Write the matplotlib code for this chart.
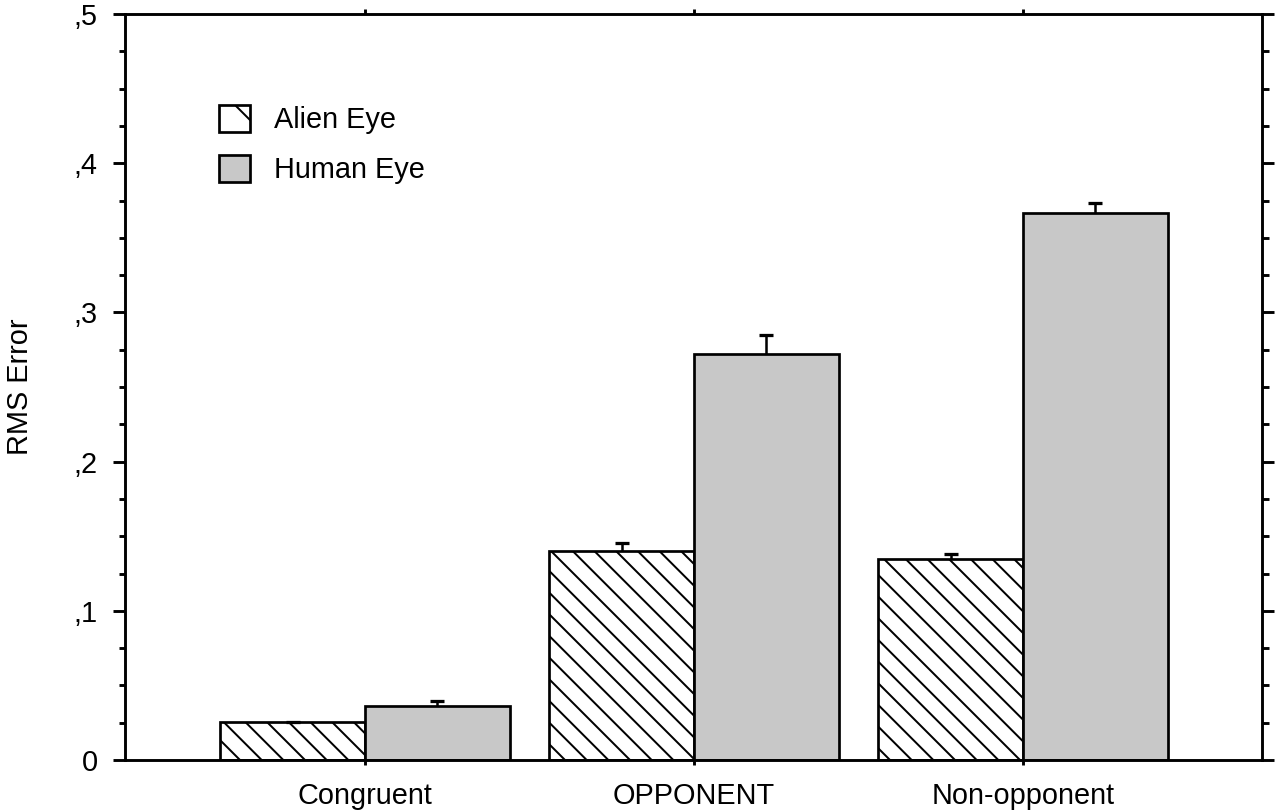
import matplotlib
matplotlib.use('Agg')
import matplotlib.pyplot as plt
import numpy as np
from matplotlib.ticker import MultipleLocator, FuncFormatter
from matplotlib.patches import Patch

# RMS error per model, two eye types
categories = ['Congruent', 'OPPONENT', 'Non-opponent']
alien = [0.0255, 0.1403, 0.1345]
alien_err = [0.0, 0.005, 0.0036]
human = [0.0362, 0.2721, 0.3664]
human_err = [0.0036, 0.0128, 0.0071]
series_names = ['Alien Eye', 'Human Eye']


def comma_fmt(v, pos):
    # ,1 ,2 ... style labels, plain 0 at the origin
    if abs(v) < 1e-9:
        return '0'
    return (',%g' % v).replace('0.', '')


def up_errbar(ax, xs, ys, err):
    # one-sided (upper) error bars, lower cap hidden
    _, caps, _ = ax.errorbar(xs, ys, yerr=[np.zeros(len(ys)), err], fmt='none',
                             ecolor='black', elinewidth=1.4, capsize=3.8,
                             capthick=1.8, zorder=3)
    caps[0].set_visible(False)


if __name__ == '__main__':
    plt.rcParams['font.family'] = ['Liberation Sans', 'DejaVu Sans']
    plt.rcParams['hatch.linewidth'] = 1.1
    plt.rcParams['hatch.color'] = 'black'

    dpi = 130
    fig = plt.figure(figsize=(1275 / dpi, 811 / dpi), dpi=dpi)
    ax = fig.add_axes([125 / 1275, 51 / 811, 1137 / 1275, 746 / 811])

    x = np.arange(len(categories))
    w = 0.44
    fs = 16

    ax.bar(x - w / 2, alien, w, color='white', edgecolor='black', linewidth=1.5,
           hatch='\\\\', zorder=2)
    ax.bar(x + w / 2, human, w, color='#c8c8c8', edgecolor='black', linewidth=1.5,
           zorder=2)
    up_errbar(ax, x - w / 2, alien, alien_err)
    up_errbar(ax, x + w / 2, human, human_err)

    ax.set_xlim(-0.7295, 2.7264)
    ax.set_ylim(0, 0.5)

    ax.set_xticks(x)
    ax.set_xticklabels(categories, fontsize=fs)
    ax.yaxis.set_major_locator(MultipleLocator(0.1))
    ax.yaxis.set_minor_locator(MultipleLocator(0.025))
    ax.yaxis.set_major_formatter(FuncFormatter(comma_fmt))
    ax.tick_params(axis='y', which='major', direction='out', length=6.6, width=1.6,
                   right=True, labelsize=fs, pad=8.5)
    ax.tick_params(axis='y', which='minor', direction='out', length=3.6, width=1.6,
                   right=True)
    ax.tick_params(axis='x', which='major', direction='out', length=2.8, width=1.6,
                   top=True, labelsize=fs, pad=9.5)
    ax.tick_params(axis='x', which='minor', bottom=False, top=False)

    for s in ax.spines.values():
        s.set_linewidth(1.6)

    ax.set_ylabel('RMS Error', fontsize=fs, labelpad=22)

    handles = [Patch(facecolor='white', edgecolor='black', hatch='\\', linewidth=1.5),
               Patch(facecolor='#c8c8c8', edgecolor='black', linewidth=1.5)]
    ax.legend(handles, series_names, loc='upper left', bbox_to_anchor=(0.083, 0.878),
              frameon=False, fontsize=fs, handlelength=1.05, handleheight=1.05,
              handletextpad=0.85, labelspacing=0.72, borderpad=0, borderaxespad=0)

    fig.savefig('out.png', dpi=dpi)
